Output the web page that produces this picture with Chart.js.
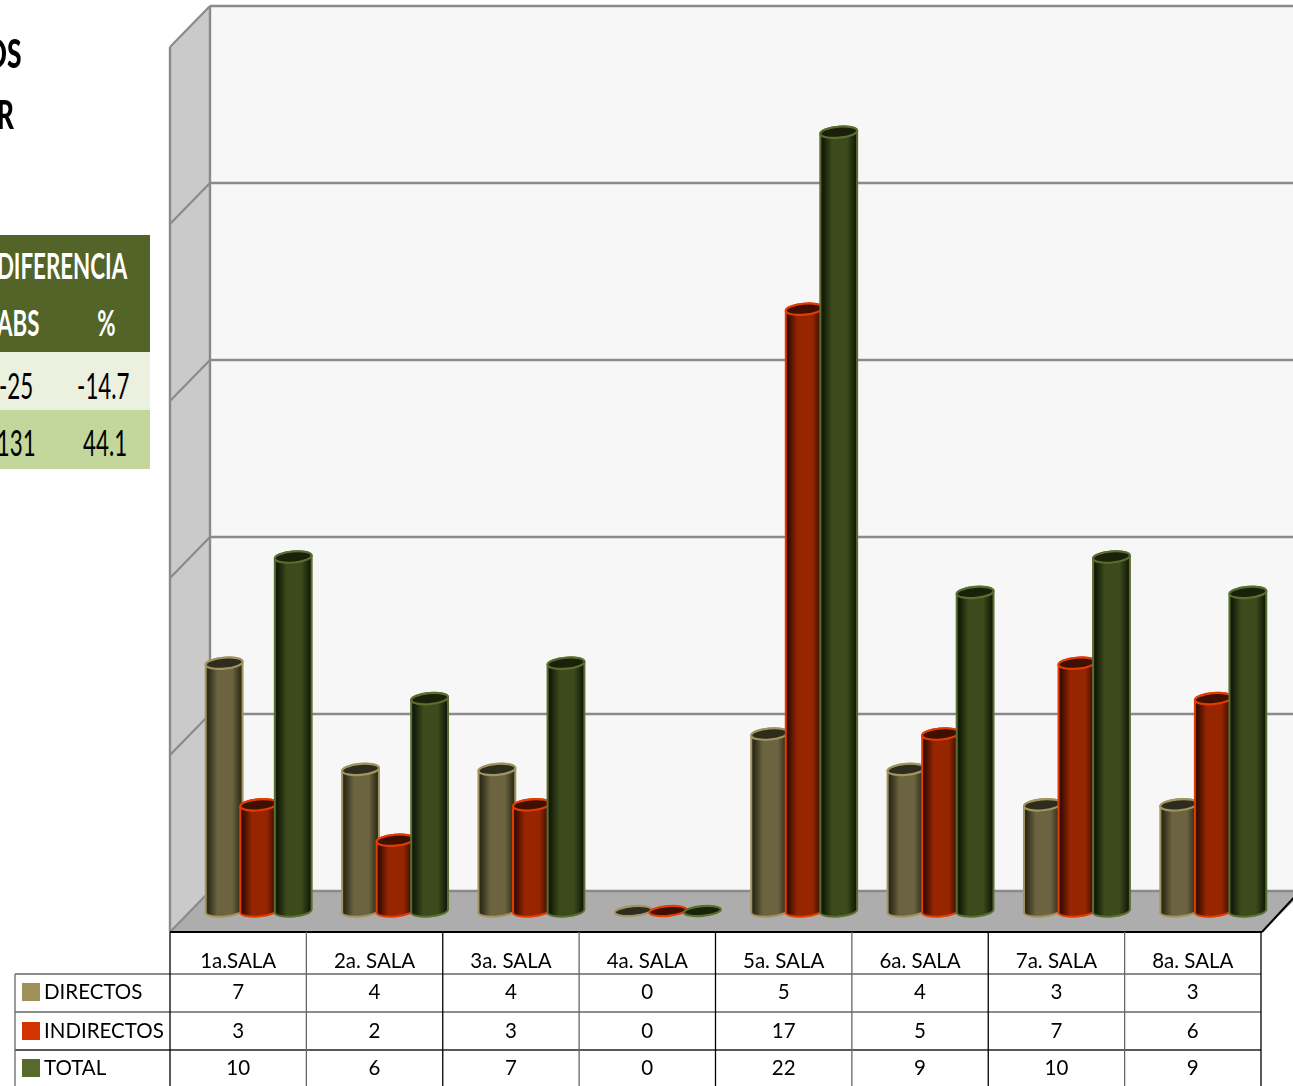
<!DOCTYPE html>
<html>
<head>
<meta charset="utf-8">
<script src="https://cdn.jsdelivr.net/npm/chart.js@4"></script>
<style>
html,body{margin:0;padding:0;background:#fff;}
#page{position:relative;width:1293px;height:1086px;overflow:hidden;background:#fff;}
canvas{position:absolute;left:0;top:0;}
.band{position:absolute;left:0;width:150px;}
.t{position:absolute;white-space:nowrap;font-family:Lato,sans-serif;font-size:36px;line-height:40px;height:40px;transform:scaleX(.62);transform-origin:right center;}
.b{font-weight:700;}
.w{color:#fff;}
.k{color:#000;}
</style>
</head>
<body>
<div id="page">
<canvas id="c" width="1293" height="1086"></canvas>
<div class="t k" style="right:1272px;top:33px;font-size:40px;font-weight:900;transform:scaleX(.66);">OS</div>
<div class="t k" style="right:1279px;top:94px;font-size:40px;font-weight:900;transform:scaleX(.66);">R</div>
<div class="band" style="top:235px;height:117px;background:#526428;"></div>
<div class="band" style="top:352px;height:58px;background:#EBF0DF;"></div>
<div class="band" style="top:410px;height:59px;background:#C3D69B;"></div>
<div class="t b w" style="right:1166px;top:245px;">DIFERENCIA</div>
<div class="t b w" style="right:1254px;top:302px;">ABS</div>
<div class="t b w" style="right:1177px;top:302px;">%</div>
<div class="t k" style="right:1260px;top:365px;">-25</div>
<div class="t k" style="right:1163px;top:365px;">-14.7</div>
<div class="t k" style="right:1257px;top:422px;">131</div>
<div class="t k" style="right:1166px;top:422px;">44.1</div>
</div>
<script>
const categories = ['1a.SALA','2a. SALA','3a. SALA','4a. SALA','5a. SALA','6a. SALA','7a. SALA','8a. SALA'];
const directos   = [7,4,4,0,5,4,3,3];
const indirectos = [3,2,3,0,17,5,7,6];
const totales    = [10,6,7,0,22,9,10,9];
const seriesNames = ['DIRECTOS','INDIRECTOS','TOTAL'];
const yTicks = [0,5,10,15,20,25];

const palette = [
  {swatch:'#9E9159',border:'#A09560',edge:'#2F2D1A',mid:'#6C6440',top:'#2E2C1C'},
  {swatch:'#D43500',border:'#E23C00',edge:'#3A0E00',mid:'#972500',top:'#3F1000'},
  {swatch:'#566A2C',border:'#5A6E30',edge:'#141C08',mid:'#3C4A1C',top:'#1A2009'}
];
const DEPTH_X = 20, DEPTH_BACK = 20, DEPTH_FRONT = 21, RY = 5.5, ROT = -5 * Math.PI / 180;
const FONT = '20.5px Lato, sans-serif';

function line(ctx,x1,y1,x2,y2,color,w){
  ctx.strokeStyle=color;ctx.lineWidth=w;ctx.beginPath();ctx.moveTo(x1,y1);ctx.lineTo(x2,y2);ctx.stroke();
}

const room = {
  id:'room',
  beforeDatasetsDraw(chart){
    const {ctx,chartArea:a,scales:{y}} = chart;
    const L=a.left-DEPTH_X, R=a.left+DEPTH_X, W=chart.width;
    const Y=v=>y.getPixelForValue(v);
    const back=Y(0)-DEPTH_BACK, front=Y(0)+DEPTH_FRONT;
    const topB=Y(25)-DEPTH_BACK, topF=Y(25)+DEPTH_FRONT;
    const frontR=a.right-DEPTH_X+1;
    ctx.save();
    ctx.fillStyle='#F7F7F7';ctx.fillRect(R,topB,W-R,back-topB);
    ctx.fillStyle='#CACACA';ctx.beginPath();
    ctx.moveTo(L,topF);ctx.lineTo(R,topB);ctx.lineTo(R,back);ctx.lineTo(L,front);ctx.closePath();ctx.fill();
    ctx.fillStyle='#ADADAD';ctx.beginPath();
    ctx.moveTo(L,front);ctx.lineTo(R,back);ctx.lineTo(W+10,back);ctx.lineTo(frontR+42,back);ctx.lineTo(frontR,front);ctx.closePath();ctx.fill();
    yTicks.forEach(v=>{
      const p=Y(v);
      line(ctx,R,p-DEPTH_BACK,W,p-DEPTH_BACK,'#8A8A8A',2.4);
      line(ctx,L,p+DEPTH_FRONT,R,p-DEPTH_BACK,'#8A8A8A',2.2);
    });
    line(ctx,L,topF,L,front,'#8A8A8A',2.4);
    line(ctx,R,topB,R,back,'#8A8A8A',2.4);
    ctx.restore();
  },
  afterDatasetsDraw(chart){
    const {ctx,chartArea:a} = chart;
    [0,1,2].forEach(ds=>{
      const c=palette[ds];
      chart.getDatasetMeta(ds).data.forEach(el=>{
        const {x,y,base,width}=el.getProps(['x','y','base','width'],true);
        const rx=width/2, cx=x+0.5;
        ctx.save();
        if(base-y>0.5){
          const g=ctx.createLinearGradient(cx-rx,0,cx+rx,0);
          g.addColorStop(0,c.edge);g.addColorStop(.08,c.edge);g.addColorStop(.32,c.mid);
          g.addColorStop(.72,c.mid);g.addColorStop(.95,c.edge);g.addColorStop(1,c.edge);
          ctx.beginPath();
          ctx.ellipse(cx,base,rx,RY,ROT,0,Math.PI);
          ctx.ellipse(cx,y,rx,RY,ROT,Math.PI,0);
          ctx.closePath();
          ctx.fillStyle=g;ctx.fill();
          ctx.strokeStyle=c.border;ctx.lineWidth=2;ctx.stroke();
        }
        ctx.beginPath();
        ctx.ellipse(cx,y,rx,base-y>0.5?RY:4.8,ROT,0,Math.PI*2);
        ctx.fillStyle=c.top;ctx.fill();
        ctx.strokeStyle=c.border;ctx.lineWidth=2.2;ctx.stroke();
        ctx.restore();
      });
    });
    const front=chart.scales.y.getPixelForValue(0)+DEPTH_FRONT;
    const frontR=a.right-DEPTH_X+1;
    ctx.save();
    line(ctx,frontR,front,frontR+38,front-41,'#000',2);
    ctx.restore();
  },
  afterDraw(chart){
    const {ctx,chartArea:a,scales:{x,y}} = chart;
    const front=y.getPixelForValue(0)+DEPTH_FRONT;
    const step=x.getPixelForValue(1)-x.getPixelForValue(0);
    const L=a.left-DEPTH_X, R=L+step*categories.length;
    const rowH=[974,1012,1050];
    const bottom=1086, legendLeft=15;
    ctx.save();
    line(ctx,L,front,R+1,front,'#000',2);
    rowH.forEach((r,i)=>line(ctx,legendLeft,r,R,r,i===2?'#222':'#666',1.3));
    line(ctx,legendLeft,rowH[0],legendLeft,bottom,'#666',1.3);
    categories.concat(['']).forEach((_,i)=>{
      const X=L+step*i;
      line(ctx,X,front,X,bottom,i%2?'#666':'#000',1.3);
    });
    const rows=[directos,indirectos,totales];
    const centers=[992,1031,1068];
    ctx.font=FONT;ctx.textBaseline='middle';
    rows.forEach((vals,r)=>{
      ctx.fillStyle=palette[r].swatch;
      ctx.fillRect(22,centers[r]-9,18,18);
      ctx.fillStyle='#000';ctx.textAlign='left';
      ctx.fillText(seriesNames[r],44,centers[r]);
      ctx.textAlign='center';
      vals.forEach((v,i)=>ctx.fillText(String(v),L+step*(i+.5),centers[r]));
    });
    ctx.restore();
  }
};

new Chart(document.getElementById('c'),{
  type:'bar',
  data:{
    labels:categories,
    datasets:[
      {label:seriesNames[0],data:directos,backgroundColor:'rgba(0,0,0,0)',borderWidth:0},
      {label:seriesNames[1],data:indirectos,backgroundColor:'rgba(0,0,0,0)',borderWidth:0},
      {label:seriesNames[2],data:totales,backgroundColor:'rgba(0,0,0,0)',borderWidth:0}
    ]
  },
  options:{
    responsive:false,animation:false,
    layout:{padding:{left:190,right:12,top:26,bottom:0}},
    categoryPercentage:.76,barPercentage:1.07,
    plugins:{legend:{display:false},tooltip:{enabled:false},title:{display:false}},
    scales:{
      x:{
        grid:{display:false},border:{display:false},
        afterFit(s){s.height=175;},
        ticks:{autoSkip:false,maxRotation:0,minRotation:0,padding:30,labelOffset:-20,color:'#000',font:{family:'Lato, sans-serif',size:20.5}}
      },
      y:{display:false,min:0,max:25,ticks:{stepSize:5}}
    }
  },
  plugins:[room]
});
</script>
</body>
</html>
